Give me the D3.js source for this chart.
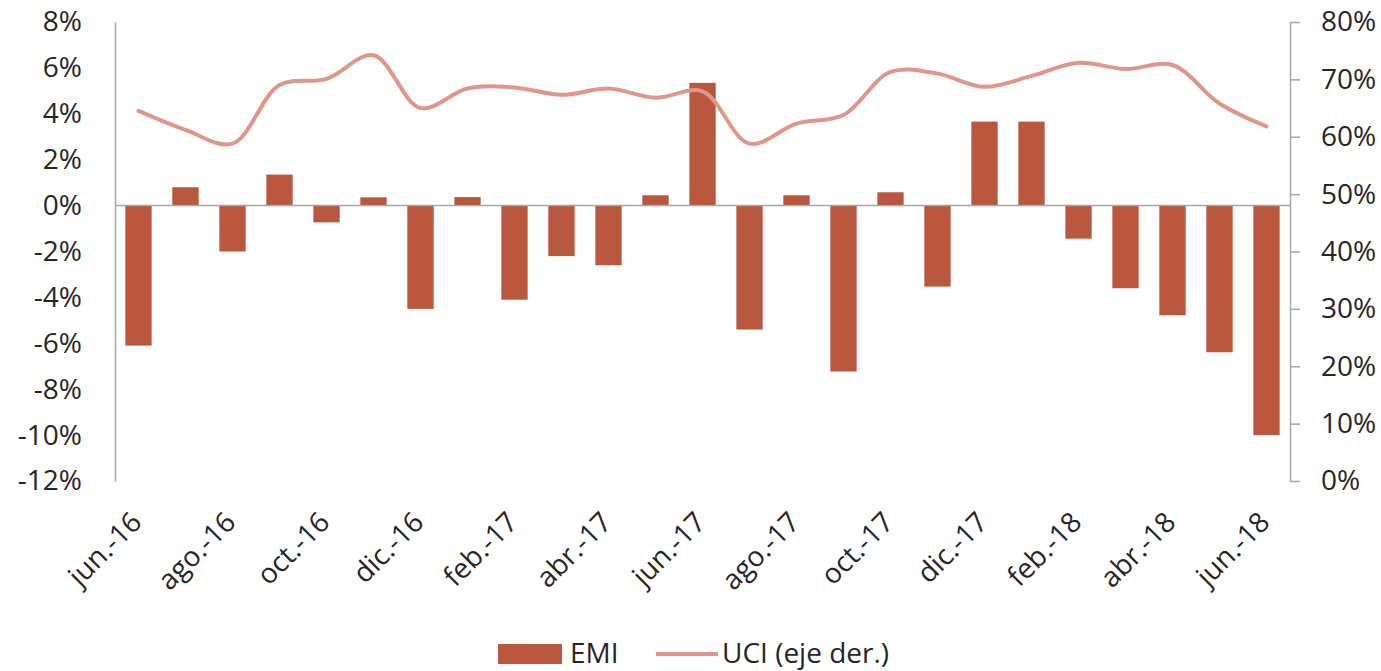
<!DOCTYPE html>
<html>
<head>
<meta charset="utf-8">
<script src="https://cdn.jsdelivr.net/npm/d3@7"></script>
<style>
  body { margin: 0; background: #fff; }
  svg { font-family: "Open Sans", sans-serif; }
</style>
</head>
<body>
<svg id="chart" width="1381" height="671"></svg>
<script>
const months = ["jun.-16", "jul.-16", "ago.-16", "sep.-16", "oct.-16", "nov.-16", "dic.-16",
  "ene.-17", "feb.-17", "mar.-17", "abr.-17", "may.-17", "jun.-17", "jul.-17", "ago.-17",
  "sep.-17", "oct.-17", "nov.-17", "dic.-17", "ene.-18", "feb.-18", "mar.-18", "abr.-18",
  "may.-18", "jun.-18"];

// EMI, variación anual (%), eje izquierdo
const emi = [-6.1, 0.8, -2.0, 1.35, -0.73, 0.36, -4.5, 0.37, -4.1, -2.2, -2.6, 0.45, 5.35,
  -5.4, 0.45, -7.23, 0.58, -3.53, 3.66, 3.66, -1.44, -3.6, -4.78, -6.39, -10.0];

// UCI (%), eje derecho
const uci = [64.5, 61.2, 58.8, 69.0, 70.1, 74.2, 65.0, 68.4, 68.6, 67.3, 68.4, 66.8, 67.9,
  58.8, 62.3, 63.8, 71.3, 71.0, 68.7, 70.6, 72.9, 71.8, 72.5, 65.8, 61.8];

const leftTicks = [-12, -10, -8, -6, -4, -2, 0, 2, 4, 6, 8];
const rightTicks = [0, 10, 20, 30, 40, 50, 60, 70, 80];

const width = 1381, height = 671;
const margin = { top: 22, right: 91, bottom: 190, left: 115 };
const innerW = width - margin.left - margin.right;
const innerH = height - margin.top - margin.bottom;

const barColor = "#b9573f";
const lineColor = "#e0978b";
const axisColor = "#a6a6a6";
const textColor = "#262626";

const svg = d3.select("#chart");
const g = svg.append("g")
  .attr("transform", "translate(" + margin.left + "," + margin.top + ")");

const x = d3.scaleBand()
  .domain(months)
  .range([0, innerW])
  .paddingInner(0.44)
  .paddingOuter(0.22);

const y = d3.scaleLinear().domain([-12, 8]).range([innerH, 0]);
const y2 = d3.scaleLinear().domain([0, 80]).range([innerH, 0]);

// bars
g.append("g")
  .selectAll("rect")
  .data(emi)
  .enter().append("rect")
  .attr("x", (d, i) => x(months[i]))
  .attr("y", d => y(Math.max(0, d)))
  .attr("width", x.bandwidth())
  .attr("height", d => Math.abs(y(d) - y(0)))
  .attr("fill", barColor);

// zero line
g.append("line")
  .attr("x1", 0).attr("x2", innerW)
  .attr("y1", y(0)).attr("y2", y(0))
  .attr("stroke", axisColor)
  .attr("stroke-width", 1.5);

// line UCI
const line = d3.line()
  .x((d, i) => x(months[i]) + x.bandwidth() / 2)
  .y(d => y2(d))
  .curve(d3.curveCatmullRom.alpha(0.5));

g.append("path")
  .datum(uci)
  .attr("fill", "none")
  .attr("stroke", lineColor)
  .attr("stroke-width", 4)
  .attr("stroke-linecap", "round")
  .attr("d", line);

// left axis
const leftAxis = g.append("g")
  .call(d3.axisLeft(y).tickValues(leftTicks).tickSize(0).tickPadding(33)
    .tickFormat(d => d + "%"));
leftAxis.select(".domain").attr("stroke", axisColor).attr("stroke-width", 1.5);
leftAxis.selectAll("text")
  .attr("font-size", 28)
  .attr("fill", textColor)
  .attr("font-family", "Open Sans, sans-serif");

// right axis
const rightAxis = g.append("g")
  .attr("transform", "translate(" + innerW + ",0)")
  .call(d3.axisRight(y2).tickValues(rightTicks).tickSize(10).tickSizeOuter(0).tickPadding(21)
    .tickFormat(d => d + "%"));
rightAxis.select(".domain").attr("stroke", axisColor).attr("stroke-width", 1.5);
rightAxis.selectAll(".tick line").attr("stroke", axisColor).attr("stroke-width", 1.5);
rightAxis.selectAll("text")
  .attr("font-size", 28)
  .attr("fill", textColor)
  .attr("font-family", "Open Sans, sans-serif");

// x labels, every second month
g.append("g")
  .selectAll("text")
  .data(months.filter((d, i) => i % 2 === 0))
  .enter().append("text")
  .attr("transform", d => "translate(" + (x(d) + x.bandwidth() / 2 - 2) + "," + (innerH + 36) + ") rotate(-45)")
  .attr("text-anchor", "end")
  .attr("dy", "0.35em")
  .attr("font-size", 28)
  .attr("fill", textColor)
  .text(d => d);

// legend
const legend = svg.append("g").attr("transform", "translate(498,653)");
legend.append("rect")
  .attr("x", 0).attr("y", -9)
  .attr("width", 64).attr("height", 20)
  .attr("fill", barColor);
legend.append("text")
  .attr("x", 72).attr("y", 0).attr("dy", "0.35em")
  .attr("font-size", 28).attr("fill", textColor)
  .text("EMI");
legend.append("line")
  .attr("x1", 158).attr("x2", 220)
  .attr("y1", 1).attr("y2", 1)
  .attr("stroke", lineColor).attr("stroke-width", 4);
legend.append("text")
  .attr("x", 224).attr("y", 0).attr("dy", "0.35em")
  .attr("font-size", 28).attr("fill", textColor)
  .text("UCI (eje der.)");
</script>
</body>
</html>
